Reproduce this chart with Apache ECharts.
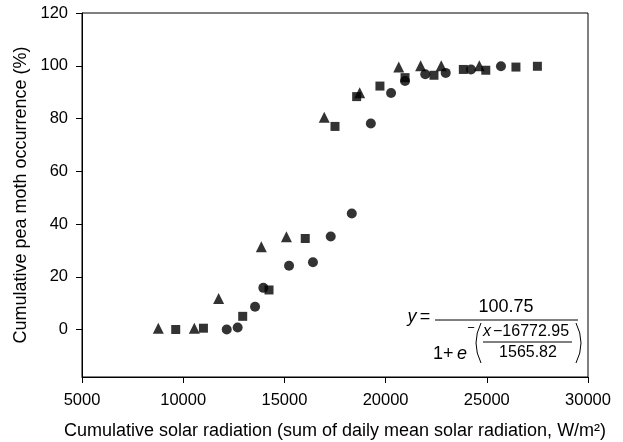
<!DOCTYPE html>
<html>
<head>
<meta charset="utf-8">
<script src="https://cdn.jsdelivr.net/npm/echarts@6/dist/echarts.min.js"></script>
<style>
  html, body { margin: 0; padding: 0; background: #fff; }
  #chart { width: 623px; height: 442px; }
</style>
</head>
<body>
<div id="chart"></div>
<script>
// data: [cumulative solar radiation, cumulative occurrence %]
const triangles = [
  [8770, 0.5], [10550, 0.5], [11750, 11.8], [13860, 31.4], [15100, 35.2],
  [16970, 80.5], [18720, 89.8], [20650, 99.5], [21730, 100], [22750, 100], [24630, 100]
];
const squares = [
  [9630, 0], [11000, 0.5], [12940, 5], [14240, 15], [16030, 34.5], [17500, 77],
  [18570, 88.3], [19720, 92.3], [20960, 95.5], [22390, 96.4], [23840, 98.6],
  [24950, 98.3], [26440, 99.5], [27500, 99.8]
];
const circles = [
  [12150, 0], [12690, 0.8], [13550, 8.6], [13960, 15.8], [15230, 24.2], [16410, 25.5],
  [17290, 35.3], [18330, 44], [19270, 78.1], [20270, 89.7], [20960, 94.2],
  [21960, 96.8], [22970, 97.3], [24220, 98.6], [25700, 99.8]
];
const yTicks = [0, 20, 40, 60, 80, 100, 120];

const FONT = "Liberation Sans";
const chart = echarts.init(document.getElementById("chart"));

function txt(x, y, text, size, extra) {
  return {
    type: "text", x: x, y: y, silent: true,
    style: Object.assign({
      text: text, fontSize: size, fontFamily: FONT, fill: "#000",
      align: "center", verticalAlign: "middle"
    }, extra || {})
  };
}
function hline(x1, x2, y) {
  return { type: "line", silent: true, shape: { x1: x1, y1: y, x2: x2, y2: y }, style: { stroke: "#000", lineWidth: 1 } };
}
function paren(x, cx, y1, y2) {
  return {
    type: "bezierCurve", silent: true,
    shape: { x1: x, y1: y1, x2: x, y2: y2, cpx1: cx, cpy1: (y1 + y2) / 2 },
    style: { stroke: "#000", lineWidth: 1, fill: null }
  };
}

const option = {
  backgroundColor: "#fff",
  animation: false,
  grid: {
    left: 82, right: 35, top: 13, bottom: 65, outerBoundsMode: "none", containLabel: false,
    show: true, borderColor: "#000", borderWidth: 1, backgroundColor: "transparent"
  },
  xAxis: {
    type: "value", min: 5000, max: 30000, interval: 5000,
    name: "Cumulative solar radiation (sum of daily mean solar radiation, W/m²)",
    nameLocation: "middle", nameGap: 45,
    nameTextStyle: { fontFamily: FONT, fontSize: 18, color: "#000" },
    axisLine: { onZero: false, lineStyle: { color: "#000", width: 1 } },
    axisTick: { length: 6, lineStyle: { color: "#000" } },
    axisLabel: { fontFamily: FONT, fontSize: 16.5, color: "#000", margin: 15, formatter: v => String(v) },
    splitLine: { show: false }
  },
  yAxis: {
    type: "value", min: -18, max: 120,
    name: "Cumulative pea moth occurrence (%)",
    nameLocation: "middle", nameGap: 51,
    nameTextStyle: { fontFamily: FONT, fontSize: 18, color: "#000" },
    axisLine: { show: true, onZero: false, lineStyle: { color: "#000", width: 1 } },
    axisTick: { show: true, length: 6, customValues: yTicks, lineStyle: { color: "#000" } },
    axisLabel: { fontFamily: FONT, fontSize: 16.5, color: "#000", margin: 14, customValues: yTicks },
    splitLine: { show: false }
  },
  series: [
    { name: "triangle", type: "scatter", symbol: "triangle", symbolSize: 11, itemStyle: { color: "#000" }, data: triangles },
    { name: "square", type: "scatter", symbol: "rect", symbolSize: 9, itemStyle: { color: "#000" }, data: squares },
    { name: "circle", type: "scatter", symbol: "circle", symbolSize: 10, itemStyle: { color: "#000" }, data: circles }
  ],
  graphic: [
    txt(412, 317, "y", 18, { fontStyle: "italic" }),
    txt(425, 317, "=", 18),
    txt(506, 307, "100.75", 18),
    hline(435, 578, 320),
    txt(433, 354, "1+", 18, { align: "left" }),
    txt(462, 354, "e", 18, { fontStyle: "italic" }),
    txt(471, 328, "−", 13),
    paren(481, 471, 323, 363),
    paren(576, 586, 323, 363),
    txt(487, 332, "x", 16, { fontStyle: "italic" }),
    txt(493, 332, "−16772.95", 16, { align: "left" }),
    hline(483, 572, 342),
    txt(528, 353, "1565.82", 16)
  ]
};
chart.setOption(option);
</script>
</body>
</html>
